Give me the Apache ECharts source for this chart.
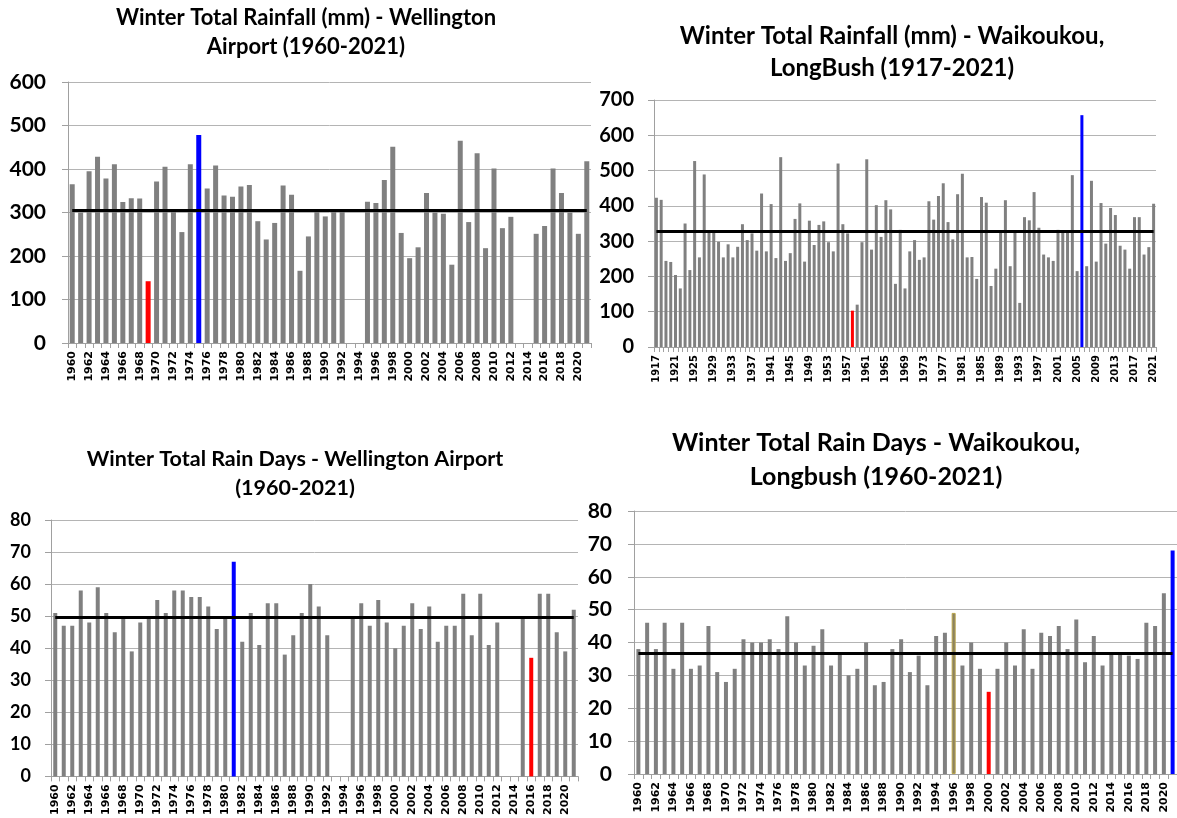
<!DOCTYPE html>
<html>
<head>
<meta charset="utf-8">
<script src="https://cdn.jsdelivr.net/npm/echarts@6/dist/echarts.min.js"></script>
<style>
html,body{margin:0;padding:0;background:#fff;}
#c{width:1177px;height:818px;}
</style>
</head>
<body>
<div id="c"></div>
<script>
// ---------- DATA ----------
const yearsWA = {start: 1960, end: 2021};
const yearsLB = {start: 1917, end: 2021};

// Winter total rainfall (mm) - Wellington Airport 1960-2021 (null = missing)
const rainWA = [
  365,300,395,428,378,411,324,333,332,142,
  371,405,303,255,411,478,355,408,339,336,
  360,363,280,238,276,362,341,166,245,303,
  291,303,303,null,null,325,322,375,451,253,
  195,220,345,300,297,180,465,278,436,218,
  401,264,290,null,null,251,269,401,345,300,
  251,418
];
const meanRainWA = 306;

// Winter total rainfall (mm) - Waikoukou, LongBush 1917-2021
const rainLB = [
  423,417,244,241,204,166,350,218,527,254,
  489,327,327,298,254,291,254,284,348,303,
  322,273,435,271,405,252,538,244,266,363,
  407,242,358,289,346,356,297,271,520,348,
  322,103,120,297,532,276,402,312,416,390,
  179,332,166,271,303,247,254,413,361,428,
  464,354,305,433,491,254,255,193,425,409,
  173,222,327,416,229,327,125,368,359,439,
  338,262,254,244,332,327,327,487,215,657,
  229,471,242,408,293,394,374,287,276,222,
  368,368,262,283,406
];
const meanRainLB = 327;

// Winter total rain days - Wellington Airport 1960-2021
const daysWA = [
  51,47,47,58,48,59,51,45,50,39,
  48,50,55,51,58,58,56,56,53,46,
  50,67,42,51,41,54,54,38,44,51,
  60,53,44,null,null,50,54,47,55,48,
  40,47,54,46,53,42,47,47,57,44,
  57,41,48,null,null,50,37,57,57,45,
  39,52
];
const meanDaysWA = 49.6;

// Winter total rain days - Waikoukou, Longbush 1960-2021
const daysLB = [
  38,46,38,46,32,46,32,33,45,31,
  28,32,41,40,40,41,38,48,40,33,
  39,44,33,37,30,32,40,27,28,38,
  41,31,36,27,42,43,49,33,40,32,
  25,32,40,33,44,32,43,42,45,38,
  47,34,42,33,37,37,36,35,46,45,
  55,68
];
const meanDaysLB = 36.8;

// highlighted years
const hlRainWA = {1969: 'red', 1975: 'blue'};
const hlRainLB = {1958: 'red', 2006: 'blue'};
const hlDaysWA = {1981: 'blue', 2016: 'red'};
const hlDaysLB = {1996: 'olive', 2000: 'red', 2021: 'blue'};

// y tick settings
const yRain1 = {max: 600, interval: 100};
const yRain2 = {max: 700, interval: 100};
const yDays = {max: 80, interval: 10};

// titles
const titles = [
  ['Winter Total Rainfall (mm) - Wellington', 'Airport (1960-2021)'],
  ['Winter Total Rainfall (mm) - Waikoukou,', 'LongBush (1917-2021)'],
  ['Winter Total Rain Days - Wellington Airport', '(1960-2021)'],
  ['Winter Total Rain Days - Waikoukou,', 'Longbush (1960-2021)']
];

// ---------- BUILD ----------
const COLORS = {
  gray: '#808080',
  red: '#ff0000',
  blue: '#0000ff',
  olive: '#8a8262'
};
function years(r){ const a=[]; for(let y=r.start;y<=r.end;y++) a.push(String(y)); return a; }

function barData(vals, yr, hl){
  return vals.map((v,i)=>{
    const y = yr.start + i;
    const c = hl[y];
    if (v === null) return '-';
    if (!c) return v;
    const st = {color: COLORS[c]};
    if (c === 'olive') { st.borderColor = '#b9a54a'; st.borderWidth = 1; }
    return {value: v, itemStyle: st};
  });
}

const panels = [
  {vals: rainWA, yr: yearsWA, hl: hlRainWA, mean: meanRainWA, y: yRain1,
   grid: {left: 68, top: 82, width: 523, height: 261}, barW: 5,
   lblInt: 1, lblFont: 11, yFont: 21, yMargin: 22},
  {vals: rainLB, yr: yearsLB, hl: hlRainLB, mean: meanRainLB, y: yRain2,
   grid: {left: 654, top: 100, width: 502, height: 247}, barW: 3,
   lblInt: 3, lblFont: 10, yFont: 20, yMargin: 20},
  {vals: daysWA, yr: yearsWA, hl: hlDaysWA, mean: meanDaysWA, y: yDays,
   grid: {left: 51, top: 520, width: 527, height: 257}, barW: 4,
   lblInt: 1, lblFont: 11, yFont: 18, yMargin: 20},
  {vals: daysLB, yr: yearsWA, hl: hlDaysLB, mean: meanDaysLB, y: yDays,
   grid: {left: 634, top: 511, width: 546, height: 263}, barW: 4,
   lblInt: 1, lblFont: 11, yFont: 21, yMargin: 22}
];

const grid = [], xAxis = [], yAxis = [], series = [];
panels.forEach((p, k) => {
  const cats = years(p.yr);
  grid.push(Object.assign({containLabel: false}, p.grid));
  xAxis.push({
    type: 'category', gridIndex: k, data: cats, boundaryGap: true,
    axisLine: {show: true, lineStyle: {color: '#a0a0a0', width: 1}},
    axisTick: {show: true, interval: 0, length: 5, lineStyle: {color: '#a0a0a0'}},
    axisLabel: {interval: p.lblInt, rotate: 90, margin: 8,
      fontFamily: 'DejaVu Sans', fontWeight: 'bold', fontSize: p.lblFont, color: '#000'},
    splitLine: {show: false}
  });
  yAxis.push({
    type: 'value', gridIndex: k, min: 0, max: p.y.max, interval: p.y.interval,
    axisLine: {show: true, lineStyle: {color: '#a0a0a0', width: 1}},
    axisTick: {show: true, length: 6, lineStyle: {color: '#a0a0a0'}},
    axisLabel: {margin: p.yMargin, fontFamily: 'Lato', fontWeight: 'bold',
      fontSize: p.yFont, color: '#000'},
    splitLine: {show: true, lineStyle: {color: '#b4b4b4', width: 1}}
  });
  series.push({
    type: 'bar', xAxisIndex: k, yAxisIndex: k,
    data: barData(p.vals, p.yr, p.hl),
    barWidth: p.barW,
    itemStyle: {color: COLORS.gray},
    silent: true, animation: false,
    markLine: {
      silent: true, symbol: 'none', animation: false,
      label: {show: false},
      lineStyle: {color: '#000', width: 3, type: 'solid'},
      data: [[{coord: [cats[0], p.mean]}, {coord: [cats[cats.length - 1], p.mean]}]]
    }
  });
});

const titlePos = [
  {x: 306, y1: 18, y2: 47, size: 22},
  {x: 892, y1: 36, y2: 68, size: 24},
  {x: 295, y1: 459, y2: 488, size: 21.5},
  {x: 876, y1: 443, y2: 477, size: 25}
];
const graphic = [];
titles.forEach((t, i) => {
  const tp = titlePos[i];
  [t[0], t[1]].forEach((line, j) => {
    graphic.push({
      type: 'text', x: tp.x, y: j === 0 ? tp.y1 : tp.y2, silent: true,
      style: {text: line, fill: '#000', align: 'center', verticalAlign: 'middle',
        font: 'bold ' + tp.size + 'px Lato'}
    });
  });
});

const chart = echarts.init(document.getElementById('c'), null, {renderer: 'canvas'});
chart.setOption({
  animation: false,
  backgroundColor: '#fff',
  grid, xAxis, yAxis, series, graphic
});
</script>
</body>
</html>
